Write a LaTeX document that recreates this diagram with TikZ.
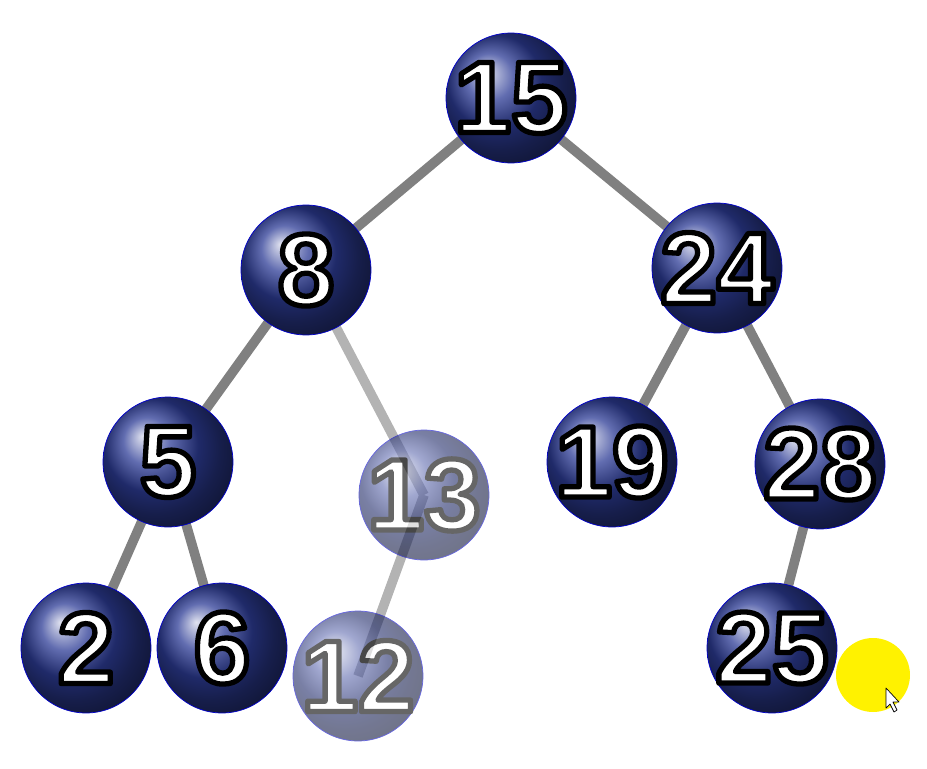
\documentclass[tikz,border=0pt]{standalone}
\usepackage{fontspec}
\setmainfont{Liberation Sans}
\newcommand\rimmed[1]{{\color{white}\special{pdf:code q 2 Tr 3 w 0 G 1 j}#1\special{pdf:code Q}}}
\begin{document}
\begin{tikzpicture}[x=0.02cm, y=-0.02cm,
  ball/.style={draw=blue!80!black, thin, circle, minimum size=2.6cm, inner sep=0pt,
    shading=ball, ball color={rgb:red,3;green,4;blue,10}},
  digits/.style={font=\fontsize{58}{58}\selectfont\bfseries, inner sep=0pt},
  link/.style={draw=gray, line width=5.5pt}]

\useasboundingbox (0,0) rectangle (927,768);

% the balls
\foreach \v/\x/\y in {15/511/98, 8/306/270, 24/717/268, 5/168/462,
    13/424/495, 19/612/462, 28/820/464, 2/86/648, 6/222/648,
    12/358/676, 25/772/648}
  \coordinate (n\v) at (\x,\y);

\path[link] (n15) -- (n8) (n15) -- (n24) (n8) -- (n5) (n24) -- (n19)
  (n24) -- (n28) (n5) -- (n2) (n5) -- (n6) (n28) -- (n25);
\path[link, opacity=0.6] (n8) -- (n13) (n13) -- (n12);

\foreach \v/\o in {15/1, 8/1, 24/1, 5/1, 13/0.6, 19/1, 28/1, 2/1, 6/1, 12/0.6, 25/1}{
  \begin{scope}[transparency group, opacity=\o]
  \node[ball] (b\v) at (n\v) {};
  \node[digits] at (n\v) {\rimmed{\v}};
  \end{scope}
}

% pointer
\fill[yellow] (873,675) circle (37);
\draw[fill=white, line join=round] (886,688) -- (886,708) -- (890,704) -- (894,712)
  -- (897,710) -- (893,702) -- (899,702) -- cycle;

\end{tikzpicture}
\end{document}
